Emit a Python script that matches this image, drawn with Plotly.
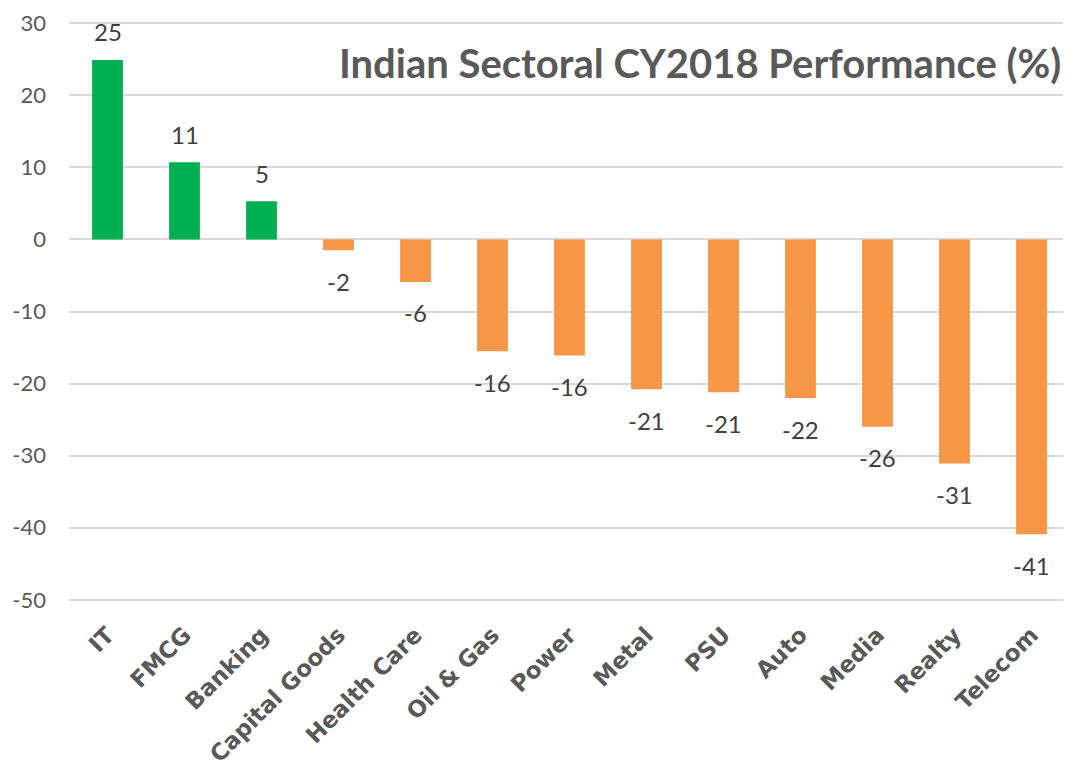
import math
import plotly.graph_objects as go

categories = ["IT", "FMCG", "Banking", "Capital Goods", "Health Care", "Oil & Gas",
              "Power", "Metal", "PSU", "Auto", "Media", "Realty", "Telecom"]
values = [24.9, 10.7, 5.3, -1.5, -5.9, -15.5, -16.1, -20.8, -21.2, -22.0, -26.0, -31.1, -40.9]
y_ticks = [30, 20, 10, 0, -10, -20, -30, -40, -50]
y_tick_labels = ["30", "20", "10", "0", "-10", "-20", "-30", "-40", "-50"]
title_text = "Indian Sectoral CY2018 Performance (%)"

GREEN = "#00B050"
ORANGE = "#F79646"
colors = [GREEN if v >= 0 else ORANGE for v in values]

FONT = "Lato, 'Open Sans', sans-serif"
XFONT = "'DejaVu Sans', sans-serif"


def label(v):
    r = int(math.floor(abs(v) + 0.5))
    return ("-" if v < 0 else "") + str(r)


fig = go.Figure()
fig.add_trace(go.Bar(
    x=categories, y=values, marker=dict(color=colors, line=dict(width=0)),
    hoverinfo="skip",
))

for c, v in zip(categories, values):
    fig.add_annotation(
        x=c, y=v, text=label(v), showarrow=False,
        yshift=28 if v >= 0 else -31,
        font=dict(family=FONT, size=24, color="#404040"),
    )

fig.add_annotation(
    xref="paper", yref="paper", x=0.993, y=0.928, xanchor="right", yanchor="middle",
    text="<b>" + title_text + "</b>", showarrow=False,
    font=dict(family=FONT, size=40, color="#595959"),
)

# page body has an 8px margin: shrink the figure to keep the plot area in place
fig.update_layout(
    width=1063, height=760,
    margin=dict(l=61, r=1, t=9, b=164),
    paper_bgcolor="white", plot_bgcolor="white",
    bargap=0.6, showlegend=False,
    font=dict(family=FONT, color="#595959"),
)
fig.update_yaxes(
    range=[-50.3, 30.3], tickvals=y_ticks, ticktext=y_tick_labels,
    showgrid=True, gridcolor="#D9D9D9", gridwidth=2,
    zeroline=True, zerolinecolor="#D9D9D9", zerolinewidth=2,
    tickfont=dict(family=FONT, size=22, color="#595959"), ticks="", showline=False,
    ticklabelstandoff=22, ticklabeloverflow="allow",
)
fig.update_xaxes(
    tickangle=-45, showgrid=False, showline=False, ticks="",
    tickfont=dict(family=XFONT, size=23, color="#595959", weight="bold"),
    ticklabelstandoff=14,
)

fig.write_html("out.html")
